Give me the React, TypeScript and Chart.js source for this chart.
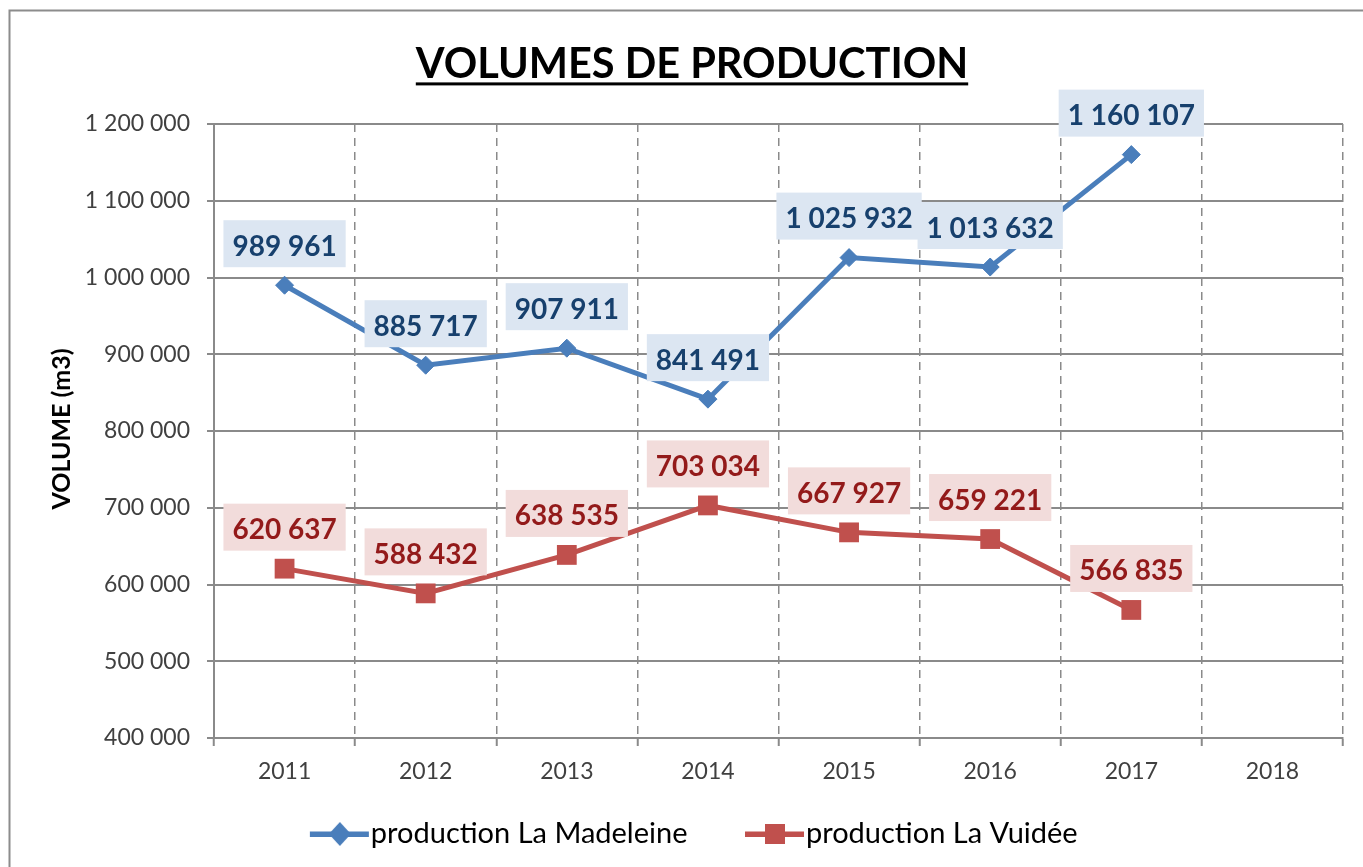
import React, { useEffect, useRef } from 'react';
import { Chart, registerables } from 'chart.js';

Chart.register(...registerables);

const years = ['2011', '2012', '2013', '2014', '2015', '2016', '2017', '2018'];
const madeleine = [989961, 885717, 907911, 841491, 1025932, 1013632, 1160107, null];
const vuidee = [620637, 588432, 638535, 703034, 667927, 659221, 566835, null];
const seriesNames = ['production La Madeleine', 'production La Vuidée'];
const chartTitle = 'VOLUMES DE PRODUCTION';
const yAxisTitle = 'VOLUME (m3)';
const yMin = 400000;
const yMax = 1200000;
const yStep = 100000;

const FONT = 'Lato, "Open Sans", sans-serif';
const BLUE = '#4A7EBB';
const RED = '#C0504D';
const BLUE_TEXT = '#17406D';
const RED_TEXT = '#931A1A';
const BLUE_BG = '#DCE6F2';
const RED_BG = '#F2DCDB';
const GRID = '#8A8A8A';

const LEG_BOX = 84;
const LEG_W = LEG_BOX + 27;

const fmt = (v: number) => String(Math.round(v)).replace(/\B(?=(\d{3})+(?!\d))/g, ' ');

function makeLegendImg(color: string, shape: 'diamond' | 'square') {
  const c = document.createElement('canvas');
  c.width = LEG_W;
  c.height = 26;
  const g = c.getContext('2d')!;
  g.fillStyle = color;
  g.fillRect(LEG_W - 60, 10.5, 59, 5.5);
  const cx = LEG_W - 30;
  const cy = 13;
  g.beginPath();
  if (shape === 'diamond') {
    g.moveTo(cx - 11, cy);
    g.lineTo(cx, cy - 12);
    g.lineTo(cx + 11, cy);
    g.lineTo(cx, cy + 12);
    g.closePath();
  } else {
    g.rect(cx - 10, cy - 10, 20, 20);
  }
  g.fill();
  return c;
}

const decorPlugin = {
  id: 'decor',
  afterLayout(chart: any) {
    if (chart.legend) {
      chart.legend.left -= 17;
      chart.legend.right -= 17;
    }
  },
  beforeDraw(chart: any) {
    const ctx = chart.ctx;
    ctx.save();
    ctx.fillStyle = '#ffffff';
    ctx.fillRect(0, 0, chart.width, chart.height);
    ctx.strokeStyle = '#8C8C8C';
    ctx.lineWidth = 2;
    ctx.strokeRect(9.5, 10.5, chart.width + 40, chart.height + 40);
    ctx.restore();
  },
  afterDraw(chart: any) {
    const ctx = chart.ctx;
    const tb = chart.titleBlock;
    ctx.save();
    if (tb) {
      ctx.font = `bold 41.5px ${FONT}`;
      const w = ctx.measureText(chartTitle).width;
      const cx = (tb.left + tb.right) / 2;
      const mid = tb.top + 40 + 24.9;
      ctx.fillStyle = '#000';
      ctx.fillRect(cx - w / 2, mid + 17.5, w, 3);
    }
    ctx.translate(61.5, 429);
    ctx.rotate(-Math.PI / 2);
    ctx.font = `bold 25px ${FONT}`;
    ctx.fillStyle = '#000';
    ctx.textAlign = 'center';
    ctx.textBaseline = 'middle';
    ctx.fillText(yAxisTitle, 0, 0);
    ctx.restore();
  },
};

const labelPlugin = {
  id: 'valueLabels',
  afterDatasetsDraw(chart: any) {
    const ctx = chart.ctx;
    const styles = [
      { bg: BLUE_BG, fg: BLUE_TEXT },
      { bg: RED_BG, fg: RED_TEXT },
    ];
    ctx.save();
    ctx.font = `bold 28px ${FONT}`;
    ctx.textAlign = 'center';
    ctx.textBaseline = 'middle';
    chart.data.datasets.forEach((ds: any, i: number) => {
      const meta = chart.getDatasetMeta(i);
      ds.data.forEach((v: number | null, j: number) => {
        if (v === null || v === undefined) return;
        const pt = meta.data[j];
        const text = fmt(v);
        const w = ctx.measureText(text).width + 18;
        const h = 47;
        const x = pt.x - w / 2;
        const y = pt.y - 18 - h;
        ctx.fillStyle = styles[i].bg;
        ctx.fillRect(x, y, w, h);
        ctx.fillStyle = styles[i].fg;
        ctx.fillText(text, pt.x, y + h / 2 + 3);
      });
    });
    ctx.restore();
  },
};

export default function App() {
  const ref = useRef<HTMLCanvasElement | null>(null);

  useEffect(() => {
    if (!ref.current) return;
    const imgs = [makeLegendImg(BLUE, 'diamond'), makeLegendImg(RED, 'square')];
    const chart = new Chart(ref.current, {
      type: 'line',
      data: {
        labels: years,
        datasets: [
          {
            label: seriesNames[0],
            data: madeleine,
            borderColor: BLUE,
            backgroundColor: BLUE,
            borderWidth: 5,
            pointStyle: 'rectRot',
            pointRadius: 9,
            pointBorderWidth: 1,
            pointBackgroundColor: BLUE,
            pointBorderColor: BLUE,
            tension: 0,
          },
          {
            label: seriesNames[1],
            data: vuidee,
            borderColor: RED,
            backgroundColor: RED,
            borderWidth: 5,
            pointStyle: 'rect',
            pointRadius: 14,
            pointBorderWidth: 0,
            pointBackgroundColor: RED,
            pointBorderColor: RED,
            tension: 0,
          },
        ],
      },
      options: {
        responsive: false,
        animation: false,
        events: [],
        layout: { padding: { left: 41, right: 20, top: 0, bottom: 8.5 } },
        scales: {
          x: {
            type: 'category',
            offset: true,
            afterFit: (scale: any) => {
              scale.height = 61.5;
            },
            grid: {
              offset: true,
              display: true,
              color: GRID,
              lineWidth: 1.5,
              drawTicks: true,
              tickLength: 8,
              tickColor: GRID,
              tickWidth: 2,
              tickBorderDash: [],
            } as any,
            border: { display: true, color: GRID, width: 2, dash: [8, 6] } as any,
            ticks: {
              color: '#404040',
              font: { family: FONT, size: 23 },
              padding: 12,
              maxRotation: 0,
            },
          },
          y: {
            min: yMin,
            max: yMax,
            afterFit: (scale: any) => {
              scale.width = 173;
            },
            grid: {
              color: GRID,
              lineWidth: 2,
              drawTicks: true,
              tickLength: 7,
              tickColor: GRID,
            },
            border: { display: true, color: GRID, width: 2 },
            ticks: {
              stepSize: yStep,
              color: '#404040',
              font: { family: FONT, size: 23 },
              padding: 17,
              callback: (v: any) => fmt(Number(v)),
            },
          },
        },
        plugins: {
          title: {
            display: true,
            text: chartTitle,
            color: '#000',
            font: { family: FONT, size: 41.5, weight: 'bold', lineHeight: 1.2 },
            padding: { top: 40, bottom: 34.2 },
          },
          legend: {
            display: true,
            position: 'bottom',
            labels: {
              usePointStyle: true,
              pointStyleWidth: LEG_BOX,
              padding: 20,
              color: '#000',
              font: { family: FONT, size: 29 },
              generateLabels: (ch: any) => {
                const items = (Chart.defaults.plugins.legend.labels as any).generateLabels(ch);
                items.forEach((it: any, k: number) => {
                  it.pointStyle = imgs[k];
                });
                return items;
              },
            },
          },
          tooltip: { enabled: false },
        },
      } as any,
      plugins: [decorPlugin, labelPlugin],
    });
    return () => chart.destroy();
  }, []);

  return (
    <div style={{ position: 'fixed', left: 0, top: 0, width: 1363, height: 867, background: '#fff' }}>
      <canvas ref={ref} width={1363} height={867} style={{ display: 'block' }} />
    </div>
  );
}
